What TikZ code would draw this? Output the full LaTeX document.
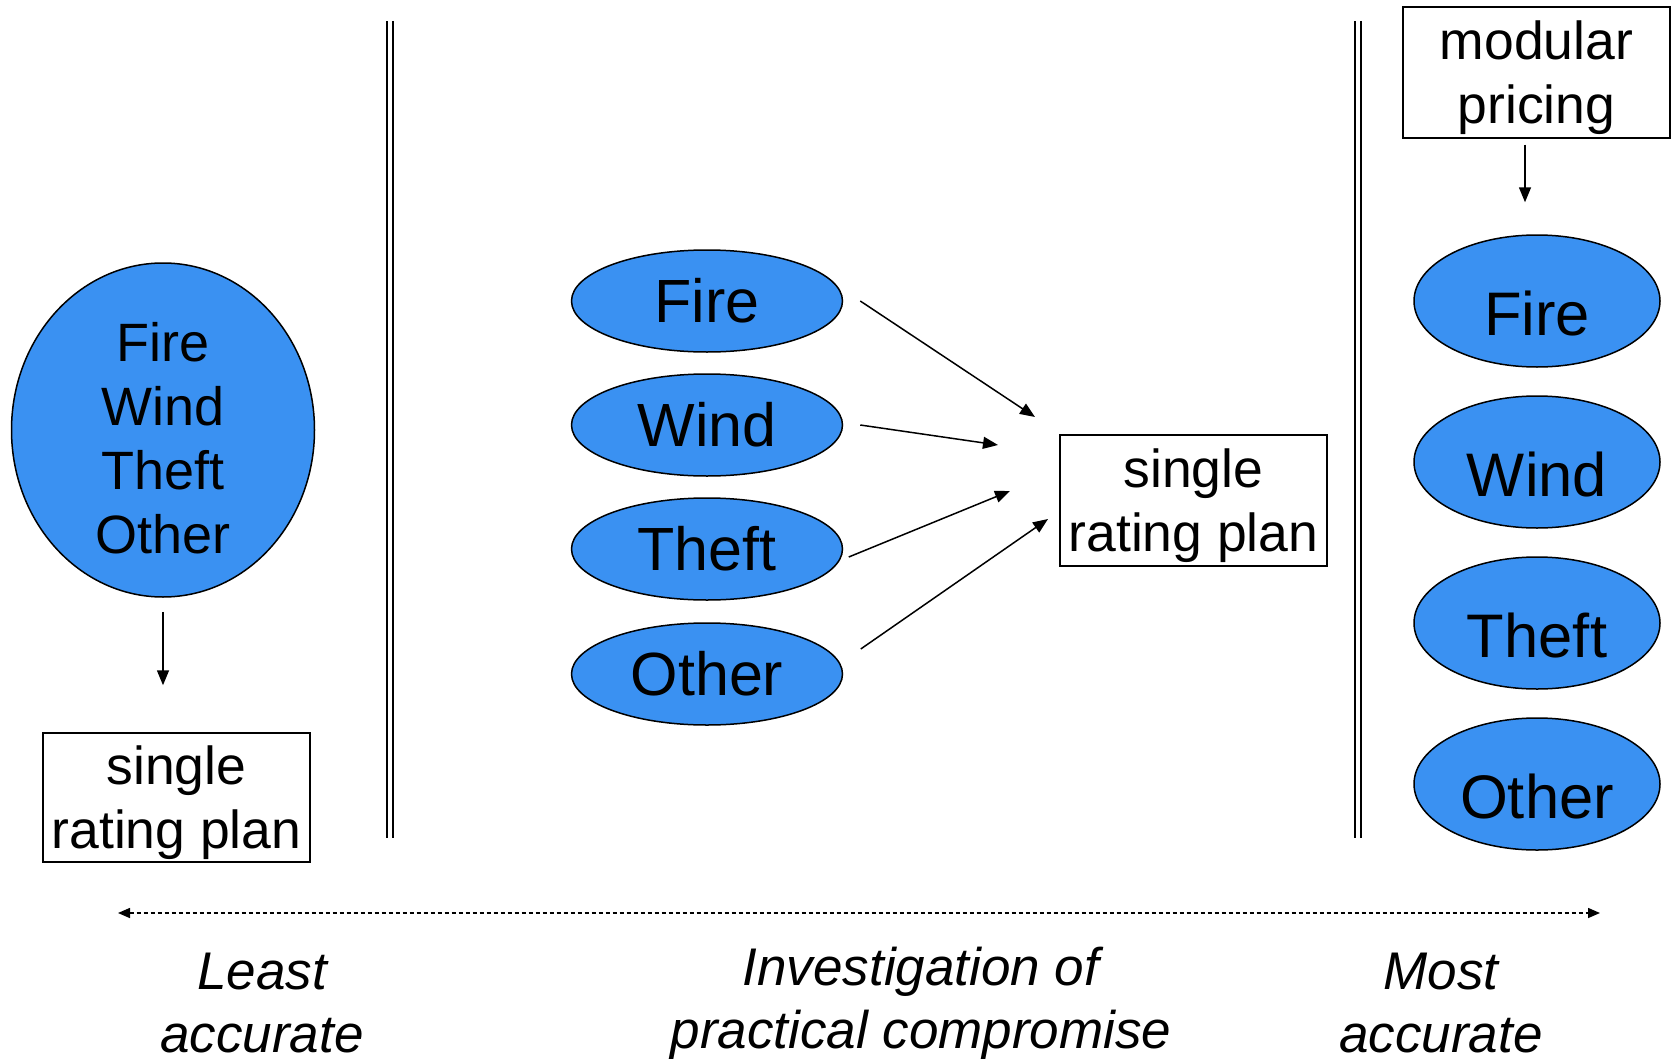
\documentclass[tikz,border=0pt]{standalone}
\usepackage{fontspec}
\setmainfont{Liberation Sans}
\usetikzlibrary{shapes.geometric,arrows.meta}
\definecolor{ellblue}{RGB}{58,145,242}
\tikzset{
  risk/.style={ellipse, draw=black, line width=1.5pt, fill=ellblue, inner sep=0pt, align=center},
  midell/.style={risk, minimum width=271pt, minimum height=102pt, font=\fontsize{61}{64}\selectfont},
  rightell/.style={risk, minimum width=246pt, minimum height=132pt, font=\fontsize{61.5}{64}\selectfont, text height=68pt, text depth=0pt},
  planbox/.style={draw=black, line width=1.5pt, inner sep=0pt, align=center, font=\fontsize{53.5}{64}\selectfont},
  arr/.style={line width=1.5pt, -{Triangle[length=15pt,width=12pt]}},
  sepline/.style={line width=1.5pt, double, double distance=4.5pt},
  scaletext/.style={align=center, font=\fontsize{53}{63}\selectfont\itshape}
}
\begin{document}
\begin{tikzpicture}[x=1pt,y=-1pt]
\useasboundingbox[fill=white] (0,0) rectangle (1673,1062);

% left column
\node[risk, inner sep=-20pt, minimum width=303pt, minimum height=334pt, font=\fontsize{54}{64}\selectfont] (all) at (163,430) {\mbox{}\\[-8.3pt]Fire\\Wind\\Theft\\Other};
\node[planbox, minimum width=267pt, minimum height=129pt] (lplan) at (176.5,797.5) {\mbox{}\\[-14.7pt]single\\rating plan};
\draw[arr] ([yshift=-14pt]all.south) -- ([xshift=-13.5pt,yshift=47pt]lplan.north);

% separators
\coordinate (s1t) at (390,21);
\coordinate (s1b) at (390,838);
\coordinate (s2t) at (1358,21);
\coordinate (s2b) at (1358,838);
\draw[sepline] (s1t) -- (s1b);
\draw[sepline] (s2t) -- (s2b);

% middle column
\node[midell] (m1) at (707,301) {Fire};
\node[midell] (m2) at (707,425) {Wind};
\node[midell] (m3) at (707,549) {Theft};
\node[midell] (m4) at (707,674) {Other};
\node[planbox, minimum width=267pt, minimum height=131pt] (mplan) at (1193.5,500.5) {\mbox{}\\[-14.7pt]single\\rating plan};
\coordinate (e1) at (1035,417);
\coordinate (e2) at (998,445);
\coordinate (e3) at (1010,491);
\coordinate (e4) at (1048,519);
\draw[arr] ([xshift=17pt]m1.east) -- (e1);
\draw[arr] ([xshift=17pt]m2.east) -- (e2);
\draw[arr] ([xshift=5.5pt,yshift=-8pt]m3.east) -- (e3);
\draw[arr] ([xshift=17.5pt,yshift=25pt]m4.east) -- (e4);

% right column
\node[planbox, minimum width=267pt, minimum height=131pt] (mod) at (1536.5,72.5) {\mbox{}\\[-14.7pt]modular\\pricing};
\node[rightell] (r1) at (1537,301) {Fire};
\node[rightell] (r2) at (1537,462) {Wind};
\node[rightell] (r3) at (1537,623) {Theft};
\node[rightell] (r4) at (1537,784) {Other};
\draw[arr] ([xshift=-11.5pt,yshift=-6pt]mod.south) -- ([xshift=-12pt,yshift=32pt]r1.north);

% accuracy scale
\coordinate (al) at (118,913);
\coordinate (ar) at (1600,913);
\draw[line width=1.5pt, dash pattern=on 4pt off 3pt, {Triangle[length=12pt,width=10pt]}-{Triangle[length=12pt,width=10pt]}] (al) -- (ar);
\node[scaletext] (least) at (262,1003) {Least\\accurate};
\node[scaletext] (inv) at (921,1003) {Investigation of\\practical compromise};
\node[scaletext] (most) at (1441,1003) {Most\\accurate};
\end{tikzpicture}
\end{document}
